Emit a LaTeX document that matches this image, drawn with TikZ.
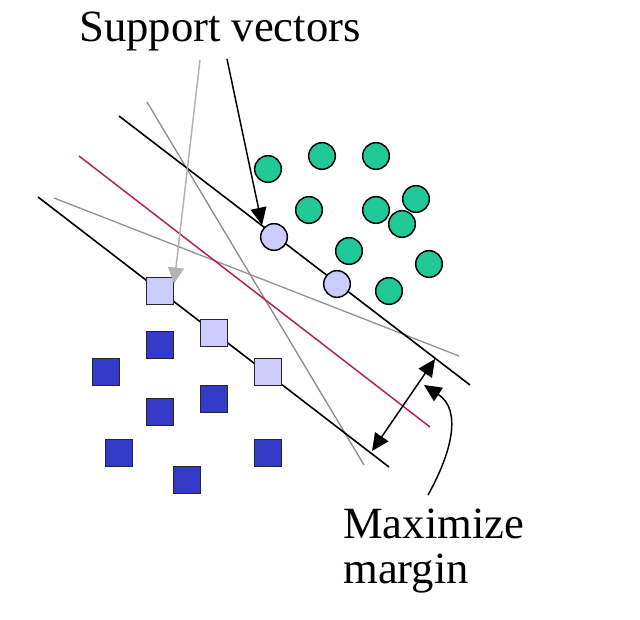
\documentclass[tikz,border=0pt]{standalone}
\usepackage{fontspec}
\setmainfont{Liberation Serif}
\usetikzlibrary{arrows.meta}

\definecolor{ptgreen}{RGB}{32,201,151}
\definecolor{boxblue}{RGB}{51,58,200}
\definecolor{svfill}{RGB}{204,204,255}
\definecolor{bestline}{RGB}{180,32,84}

\begin{document}
\begin{tikzpicture}[x=0.75pt,y=0.75pt,yscale=-1,xscale=1,
  greendot/.style={circle,draw=black,line width=1.1pt,fill=ptgreen,minimum size=20pt,inner sep=0pt},
  svdot/.style={greendot,fill=svfill},
  bluebox/.style={rectangle,draw=black!85,line width=1.1pt,fill=boxblue,minimum size=20pt,inner sep=0pt},
  svbox/.style={bluebox,fill=svfill},
  bigtext/.style={font=\fontsize{33.5}{40}\selectfont,inner sep=0pt},
  tipblack/.style={-{Triangle[length=13pt,width=12pt]},line width=1.1pt},
  tipgray/.style={-{Triangle[length=12pt,width=12pt]},line width=1.1pt,draw=black!30,fill=black!30}]
\useasboundingbox (0,0) rectangle (640,620);

%Straight Lines: other separators
\draw [black!45,line width=1pt] (147,102) -- (364,465) ;
\draw [black!42,line width=1pt] (54,198) -- (459,356) ;
%Straight Lines: best separator
\draw [bestline,line width=1.1pt] (79,156) -- (430,427) ;
%Straight Lines: margin lines
\draw [line width=1.2pt] (119,116) -- (470,385) ;
\draw [line width=1.2pt] (38,197) -- (389,467) ;

%Shape: Circles
\node [greendot] (g1) at (268,169) {};
\node [greendot] (g2) at (322,156) {};
\node [greendot] (g3) at (376,156) {};
\node [greendot] (g4) at (416,199) {};
\node [greendot] (g5) at (309,210) {};
\node [greendot] (g6) at (376,210) {};
\node [greendot] (g7) at (402,224) {};
\node [greendot] (g8) at (349,251) {};
\node [greendot] (g9) at (429,264) {};
\node [greendot] (g10) at (389,291) {};
\node [svdot] (sv1) at (274,237) {};
\node [svdot] (sv2) at (337,284) {};

%Shape: Squares
\node [bluebox] (b1) at (160,345) {};
\node [bluebox] (b2) at (106,372) {};
\node [bluebox] (b3) at (214,399) {};
\node [bluebox] (b4) at (160,412) {};
\node [bluebox] (b5) at (119,453) {};
\node [bluebox] (b6) at (268,453) {};
\node [bluebox] (b7) at (187,480) {};
\node [svbox] (sq1) at (160,291) {};
\node [svbox] (sq2) at (214,333) {};
\node [svbox] (sq3) at (268,372) {};

% Text Node
\node [bigtext,anchor=base] (svtext) at (220,42) {Support vectors};
\node [bigtext,anchor=base west] (maxtext) at (343,539) {Maximize};
\node [bigtext,anchor=base west] (margintext) at (343,584) {margin};

%Arrows
\coordinate (svg) at (200,60);
\coordinate (svb) at (227,59);
\draw [tipgray] (svg) -- ([yshift=5]sq1.north east) ;
\draw [tipblack] (svb) -- ([shift={(-2,-2)}]sv1.north west) ;

\coordinate (mtop) at (435,359);
\coordinate (mbot) at (372,451);
\draw [tipblack,{Triangle[length=13pt,width=12pt]}-{Triangle[length=13pt,width=12pt]}] (mbot) -- (mtop) ;

\coordinate (curvestart) at (428,495);
\coordinate (curveend) at (424,385);
\draw [tipblack] (curvestart) .. controls (452,452) and (462,410) .. (curveend) ;

\end{tikzpicture}
\end{document}
